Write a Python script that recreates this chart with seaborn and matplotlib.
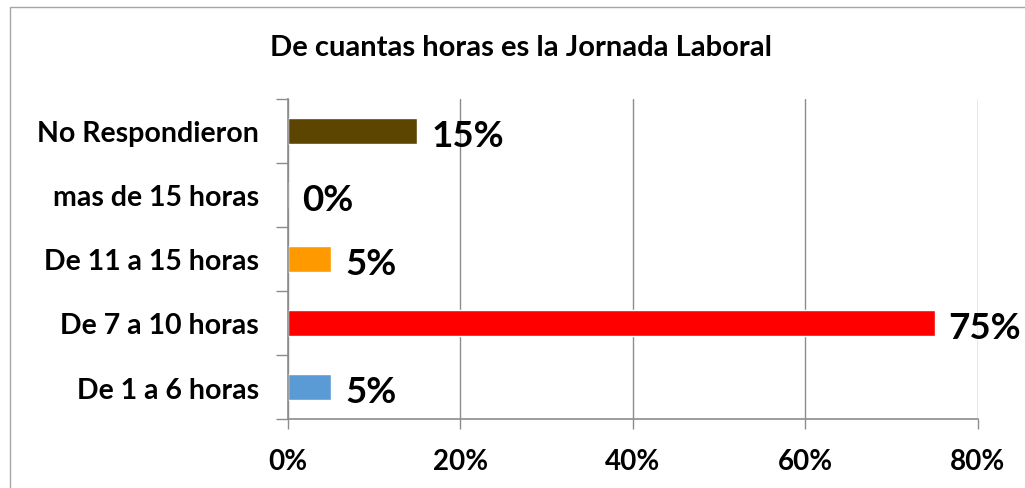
import pandas as pd
import matplotlib.pyplot as plt
import seaborn as sns
from matplotlib.patches import Rectangle
from matplotlib.ticker import FuncFormatter

# data, top bar first
categorias = ['No Respondieron', 'mas de 15 horas', 'De 11 a 15 horas',
              'De 7 a 10 horas', 'De 1 a 6 horas']
porcentajes = [15, 0, 5, 75, 5]
colores = ['#5C4500', '#FFFFFF', '#FF9900', '#FF0000', '#5B9BD5']
ticks_x = [0, 20, 40, 60, 80]

sns.set_theme(style='white')
plt.rcParams['font.family'] = ['Lato', 'DejaVu Sans']

df = pd.DataFrame({'cat': categorias, 'pct': porcentajes})

fig = plt.figure(figsize=(10.25, 4.89), dpi=100)
ax = fig.add_axes([0.281, 0.141, 0.673, 0.655])

sns.barplot(data=df, x='pct', y='cat', hue='cat', palette=colores,
            order=categorias, width=0.4, legend=False, ax=ax, saturation=1)

ax.set_xlim(0, 80)
ax.set_xticks(ticks_x)
ax.xaxis.set_major_formatter(FuncFormatter(lambda v, p: f'{v:.0f}%'))
ax.grid(axis='x', color='#8C8C8C', linewidth=1)
ax.set_axisbelow(True)

# category boundary ticks on y axis, like excel
ax.set_yticks([i - 0.5 for i in range(len(categorias) + 1)], minor=False)
ax.set_yticklabels([])
ax.set_yticks(range(len(categorias)), minor=True)
ax.set_yticklabels(categorias, minor=True)
ax.set_ylim(len(categorias) - 0.5, -0.5)
ax.tick_params(axis='y', which='major', length=8.6, width=1, color='#8C8C8C', direction='out', left=True)
ax.tick_params(axis='y', which='minor', length=0, pad=21, labelsize=20.5)
ax.tick_params(axis='x', length=7, width=1, color='#8C8C8C', direction='out', bottom=True,
               labelsize=20, pad=14)
for lab in ax.get_yticklabels(minor=True) + ax.get_xticklabels():
    lab.set_fontweight('bold')
    lab.set_color('black')

for s in ['top', 'right']:
    ax.spines[s].set_visible(False)
for s in ['left', 'bottom']:
    ax.spines[s].set_color('#8C8C8C')
    ax.spines[s].set_linewidth(1.2)

for i, v in enumerate(porcentajes):
    ax.text(v + 1.6, i + 0.07, f'{v}%', va='center', ha='left',
            fontsize=26.5, fontweight='bold', color='black')

ax.set_xlabel('')
ax.set_ylabel('')

fig.text(0.508, 0.902, 'De cuantas horas es la Jornada Laboral', ha='center', va='center',
         fontsize=21, fontweight='bold', color='black')

fig.patches.append(Rectangle((10 / 1025, -0.05), 1.0, 1 - 8 / 489 + 0.05,
                             transform=fig.transFigure, fill=False,
                             edgecolor='#A6A6A6', linewidth=1))

fig.savefig('out.png', dpi=100)
